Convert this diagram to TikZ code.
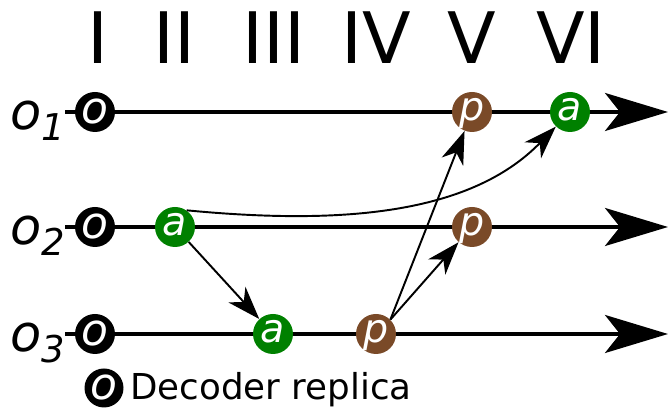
\documentclass[tikz,border=0pt]{standalone}
\usepackage{fontspec}
\setmainfont{DejaVu Sans}
\usepackage{tikz}
\usetikzlibrary{arrows.meta,positioning}
\definecolor{mygreen}{RGB}{0,128,0}
\definecolor{mybrown}{RGB}{122,74,40}

\begin{document}
\begin{tikzpicture}[
    replica/.style={circle, fill=black, text=white, minimum size=0.8cm, inner sep=0pt, font=\fontsize{25}{25}\selectfont\itshape, text height=0.48cm, text depth=0pt},
    msgnode/.style={circle, fill=#1, text=white, minimum size=0.8cm, inner sep=0pt, font=\fontsize{22.5}{22.5}\selectfont\itshape, text height=0.33cm, text depth=0pt},
    timeline/.style={line width=1.9pt, -{Stealth[length=1.26cm, width=0.76cm, inset=0.3cm]}},
    arrow/.style={line width=1.1pt, -{Stealth[length=0.66cm, width=0.46cm, inset=0.2cm]}},
    numeral/.style={anchor=base, inner sep=0pt, font=\fontsize{40.4}{40.4}\selectfont},
    rowlabel/.style={anchor=base west, inner sep=0pt, font=\fontsize{29}{29}\selectfont\itshape},
]
    \useasboundingbox (0,0) rectangle (13.38,8.2);

    % column numerals
    \foreach \n/\x in {I/1.96, II/3.48, III/5.48, IV/7.52, V/9.44, VI/11.42} {
        \node[numeral] (h\n) at (\x,6.92) {\n};
    }

    % one time line per replica
    \foreach \r/\y in {1/5.96, 2/3.66, 3/1.52} {
        \coordinate (s\r) at (1.3,\y);
        \coordinate (e\r) at (13.36,\y);
        \draw[timeline] (s\r) -- (e\r);
        \node[replica] (o\r) at (1.9,\y) {o};
        \node[rowlabel] (lab\r) at (0.2,\y-0.36) {o\raisebox{-0.22cm}{\fontsize{21}{21}\selectfont\itshape\r}};
    }

    % messages
    \node[msgnode=mybrown] (p1) at (9.44,5.96) {p};
    \node[msgnode=mygreen] (a1) at (11.4,5.96) {a};
    \node[msgnode=mygreen] (a2) at (3.5,3.66) {a};
    \node[msgnode=mybrown] (p2) at (9.44,3.66) {p};
    \node[msgnode=mygreen] (a3) at (5.46,1.52) {a};
    \node[msgnode=mybrown] (p3) at (7.52,1.52) {p};

    \draw[arrow] (a2) -- (a3);
    \draw[arrow] (p3.45) -- (p1);
    \draw[arrow] (p3.45) -- (p2);
    \draw[arrow] (a2.55) .. controls (6.8,3.7) and (9.4,3.9) .. (a1);

    % legend
    \node[replica, minimum size=0.78cm] (key) at (2.08,0.44) {o};
    \node[anchor=base west, inner sep=0pt, font=\fontsize{20.3}{20.3}\selectfont] (keytext) at (2.6,0.2) {Decoder replica};
\end{tikzpicture}
\end{document}
